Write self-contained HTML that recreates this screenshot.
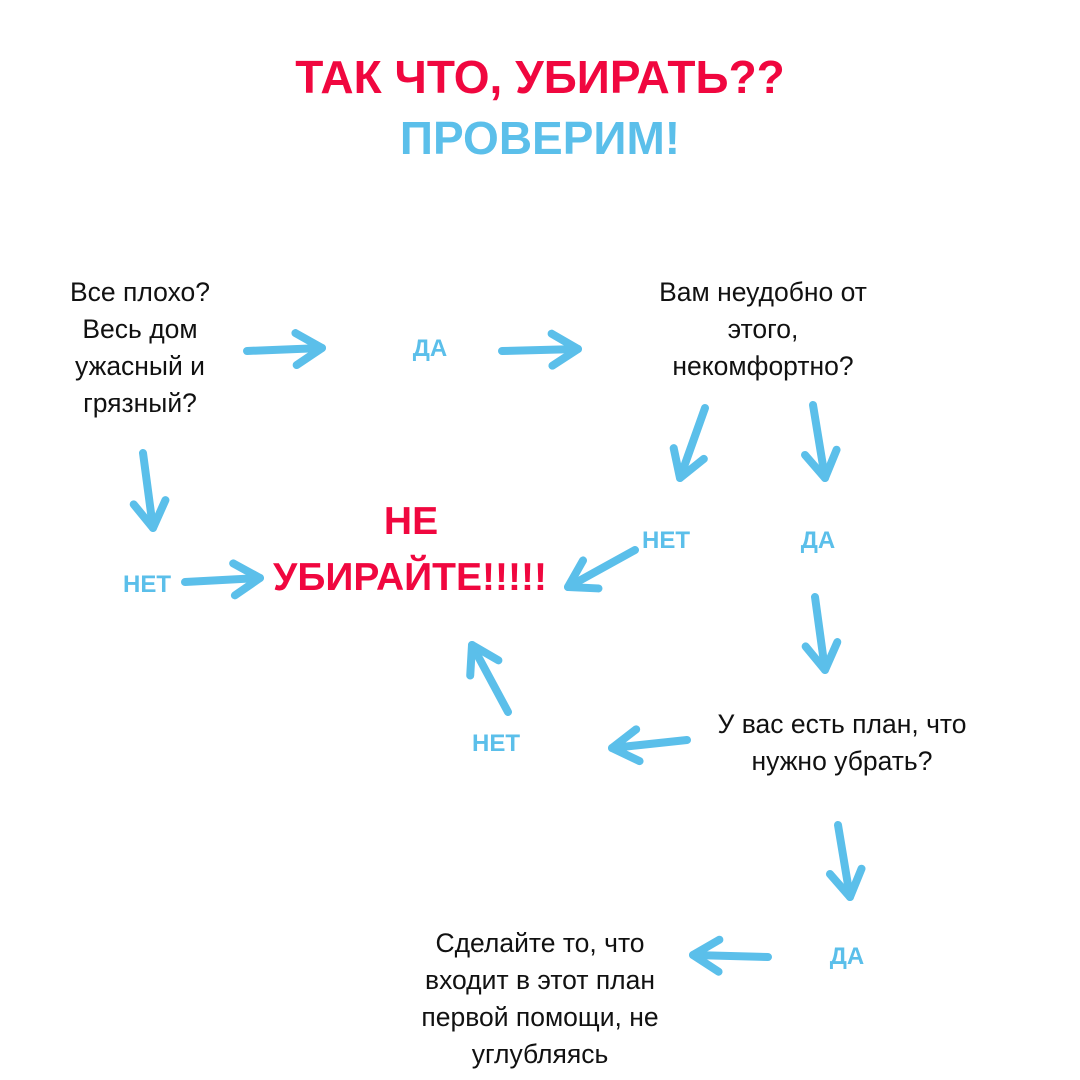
<!DOCTYPE html>
<html><head><meta charset="utf-8"><style>
body{margin:0;width:1080px;height:1080px;background:#fff;position:relative;overflow:hidden;font-family:"Liberation Sans","DejaVu Sans",sans-serif}
.t{position:absolute;transform:translate(-50%,-50%);white-space:nowrap;text-align:center}
.h{font-weight:bold;font-size:46px}
.r{color:#f0073f}.b{color:#5bbfea}
.lbl{font-weight:bold;font-size:24px;color:#5bbfea}
.q{font-size:26.5px;line-height:37px;color:#111;transform:translate(-50%,0)}
svg{position:absolute;left:0;top:0}
</style></head><body>
<div class="t h r" style="left:540px;top:77px">ТАК ЧТО, УБИРАТЬ??</div>
<div class="t h b" style="left:540px;top:138px">ПРОВЕРИМ!</div>
<div class="t q" style="left:140px;top:274px">Все плохо?<br>Весь дом<br>ужасный и<br>грязный?</div>
<div class="t q" style="left:763px;top:274px">Вам неудобно от<br>этого,<br>некомфортно?</div>
<div class="t q" style="left:842px;top:706px">У вас есть план, что<br>нужно убрать?</div>
<div class="t q" style="left:540px;top:925px">Сделайте то, что<br>входит в этот план<br>первой помощи, не<br>углубляясь</div>
<div class="t lbl" style="left:430px;top:349px">ДА</div>
<div class="t lbl" style="left:818px;top:541px">ДА</div>
<div class="t lbl" style="left:847px;top:957px">ДА</div>
<div class="t lbl" style="left:147px;top:585px">НЕТ</div>
<div class="t lbl" style="left:666px;top:541px">НЕТ</div>
<div class="t lbl" style="left:496px;top:744px">НЕТ</div>
<div class="t r" style="left:411px;top:522px;font-weight:bold;font-size:39px">НЕ</div>
<div class="t r" style="left:410px;top:578px;font-weight:bold;font-size:39px">УБИРАЙТЕ!!!!!</div>
<svg width="1080" height="1080" id="s" fill="none" stroke="#5bbfea" stroke-linecap="round" stroke-linejoin="round"></svg>
<script>
var A=[[247,351,322,348],[502,351,578,349],[143,453,153,528],[185,582,260,578],[705,408,680,478],[813,405,825,478],[635,550,568,587],[815,597,825,670],[687,740,612,748],[508,712,472,645],[838,825,850,897],[768,957,693,955]];
var s=document.getElementById('s'),h='';
A.forEach(function(a){var dx=a[2]-a[0],dy=a[3]-a[1],L=Math.hypot(dx,dy),ux=dx/L,uy=dy/L,px=-uy,py=ux,k=26,w=16;
var x=a[2],y=a[3];
h+='<path d="M'+a[0]+' '+a[1]+'L'+x+' '+y+'" stroke-width="8"/>';
h+='<path d="M'+(x-ux*k+px*w)+' '+(y-uy*k+py*w)+'L'+x+' '+y+'L'+(x-ux*k-px*w)+' '+(y-uy*k-py*w)+'" stroke-width="8"/>';});
s.innerHTML=h;
</script>
</body></html>
